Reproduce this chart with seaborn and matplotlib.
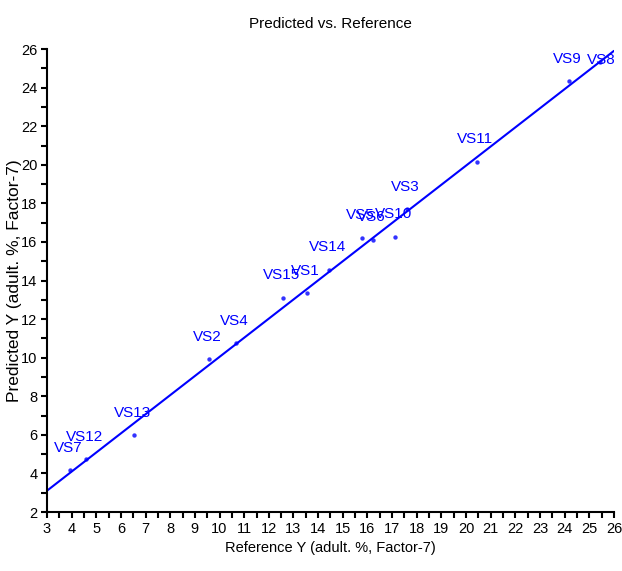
import numpy as np
import pandas as pd
import matplotlib
matplotlib.use("Agg")
import matplotlib.pyplot as plt
import seaborn as sns
from matplotlib.ticker import MultipleLocator

sns.set_theme(style="white")
plt.rcParams['font.family'] = ['Liberation Sans', 'DejaVu Sans']

# samples
names = ["VS7", "VS12", "VS13", "VS2", "VS4", "VS15", "VS1", "VS14",
         "VS5", "VS6", "VS10", "VS3", "VS11", "VS9", "VS8"]
reference = [3.93, 4.58, 6.53, 9.57, 10.67, 12.57, 13.55, 14.44,
             15.78, 16.23, 17.12, 17.6, 20.43, 24.18, 25.45]
predicted = [4.17, 4.74, 5.98, 9.92, 10.74, 13.12, 13.33, 14.57,
             16.23, 16.12, 16.28, 17.7, 20.17, 24.35, 25.35]

df = pd.DataFrame({"name": names, "ref": reference, "pred": predicted})

blue = "#0000ff"
fig = plt.figure(figsize=(6.22, 5.71), dpi=100)
ax = fig.add_axes([0.0756, 0.1033, 0.9114, 0.8107])
ax.set_xlim(3, 26)
ax.set_ylim(2, 26)

sns.regplot(data=df, x="ref", y="pred", ax=ax, ci=None, truncate=False,
            color=blue, scatter_kws={"s": 10, "linewidths": 0},
            line_kws={"linewidth": 1.5})

# label placement: most sit above their point, VS8 sits on it (top edge)
for _, r in df.iterrows():
    if r["name"] == "VS8":
        off, va = (1, 1), "center"
    else:
        off, va = (-1, 11), "bottom"
    ax.annotate(r["name"], (r["ref"], r["pred"]), xytext=off,
                textcoords="offset points", ha="center", va=va,
                color=blue, fontsize=11)

ax.xaxis.set_major_locator(MultipleLocator(1))
ax.xaxis.set_minor_locator(MultipleLocator(0.5))
ax.yaxis.set_major_locator(MultipleLocator(2))
ax.yaxis.set_minor_locator(MultipleLocator(1))
ax.tick_params(which="both", direction="out", length=4, width=1.5,
               color="black", labelsize=10.5, labelcolor="black",
               bottom=True, left=True, pad=3)
for s in ["top", "right"]:
    ax.spines[s].set_visible(False)
for s in ["left", "bottom"]:
    ax.spines[s].set_color("black")
    ax.spines[s].set_linewidth(1.5)

ax.set_xlabel("Reference Y (adult. %, Factor-7)", fontsize=10.5,
              color="black", labelpad=4)
ax.set_ylabel("Predicted Y (adult. %, Factor-7)", fontsize=12.5,
              color="black")
ax.yaxis.set_label_coords(-0.045, 0.5)
ax.set_title("Predicted vs. Reference", fontsize=11, color="black", pad=15)

fig.savefig("out.png", dpi=100)
